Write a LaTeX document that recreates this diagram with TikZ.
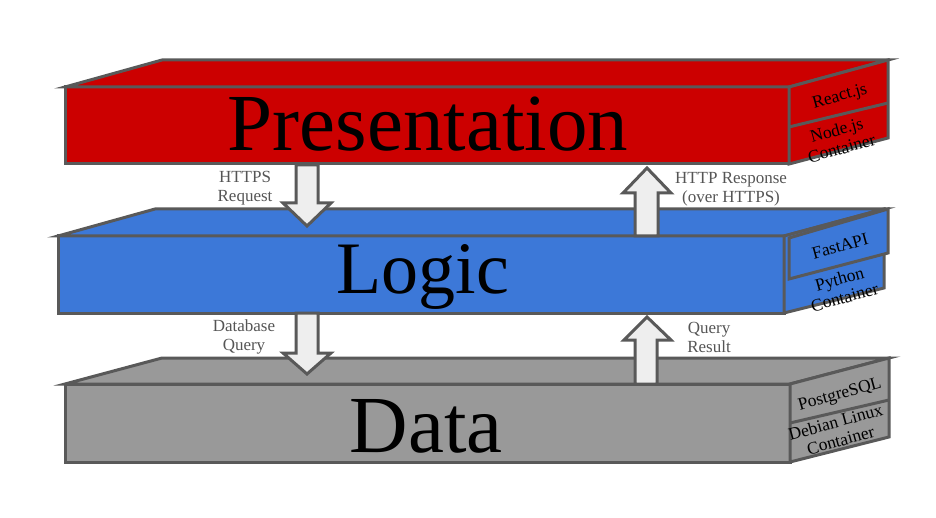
\documentclass[tikz,border=0pt]{standalone}
\usepackage{fontspec}
\setmainfont{Liberation Serif}
\definecolor{redf}{HTML}{CC0000}
\definecolor{bluef}{HTML}{3C78D8}
\definecolor{grayf}{HTML}{999999}
\definecolor{edge}{HTML}{595959}
\definecolor{arrf}{HTML}{EEEEEE}
\definecolor{lbl}{HTML}{555555}
\begin{document}
\begin{tikzpicture}[x=1pt,y=-1pt,
  face/.style={draw=edge,line width=3pt,line join=miter},
  arr/.style={draw=edge,fill=arrf,line width=3pt,line join=miter},
  big/.style={font=\fontsize{81}{81}\selectfont,anchor=base},
  flow/.style={font=\fontsize{17}{19}\selectfont,text=lbl,align=center,inner sep=1pt},
  side/.style={font=\fontsize{17.5}{19}\selectfont,align=center,rotate=15.4,inner sep=0pt}]
\useasboundingbox (0,0) rectangle (936,518);
% Presentation layer
\fill[face,fill=redf] (65,87) -- (789,87) -- (789,164) -- (65,164) -- cycle;
\fill[face,fill=redf] (65,87) -- (162,60) -- (888,60) -- (789,87) -- cycle;
\fill[face,fill=redf] (789,87) -- (888,60) -- (888,138) -- (789,164) -- cycle;
\draw[face] (789,127) -- (888,103);
% Logic layer
\fill[face,fill=bluef] (58,236) -- (784,236) -- (784,313) -- (58,313) -- cycle;
\fill[face,fill=bluef] (58,236) -- (155,209) -- (884,209) -- (784,236) -- cycle;
\fill[face,fill=bluef] (784,236) -- (884,209) -- (884,288) -- (784,313) -- cycle;
\fill[face,fill=bluef] (789,238) -- (888,209) -- (888,253) -- (789,279) -- cycle;
% Data layer
\fill[face,fill=grayf] (65,384) -- (790,384) -- (790,462) -- (65,462) -- cycle;
\fill[face,fill=grayf] (65,384) -- (162,358) -- (889,358) -- (790,384) -- cycle;
\fill[face,fill=grayf] (790,384) -- (889,358) -- (889,437) -- (790,462) -- cycle;
\draw[face] (790,423) -- (889,400);
% Arrows
\filldraw[arr] (296,165) -- (318,165) -- (318,203) -- (331,203) -- (307,226) -- (283,203) -- (296,203) -- cycle;
\filldraw[arr] (635,236) -- (658,236) -- (658,193) -- (671,193) -- (647,168) -- (623,193) -- (635,193) -- cycle;
\filldraw[arr] (296,313) -- (318,313) -- (318,353) -- (331,353) -- (307,374) -- (283,353) -- (296,353) -- cycle;
\filldraw[arr] (635,384) -- (657,384) -- (657,340) -- (671,340) -- (647,317) -- (624,340) -- (635,340) -- cycle;
% Main labels
\node[big] (pres) at (428,151) {Presentation};
\node[big,font=\fontsize{74}{74}\selectfont] (logic) at (423,294) {Logic};
\node[big] (data) at (426,452) {Data};
% Flow labels
\node[flow] (req) at (245,188) {HTTPS\\Request};
\node[flow] (resp) at (731,189) {HTTP Response\\(over HTTPS)};
\node[flow] (dbq) at (244,337) {Database\\Query};
\node[flow] (qres) at (709,337) {Query\\Result};
% Side labels
\node[side] (react) at (840,97) {React.js};
\node[side] (node) at (839,139) {Node.js\\Container};
\node[side] (fast) at (840,246) {FastAPI};
\node[side] (py) at (842,288) {Python\\Container};
\node[side] (pg) at (840,395) {PostgreSQL};
\node[side] (deb) at (838,431) {Debian Linux\\Container};
\end{tikzpicture}
\end{document}
